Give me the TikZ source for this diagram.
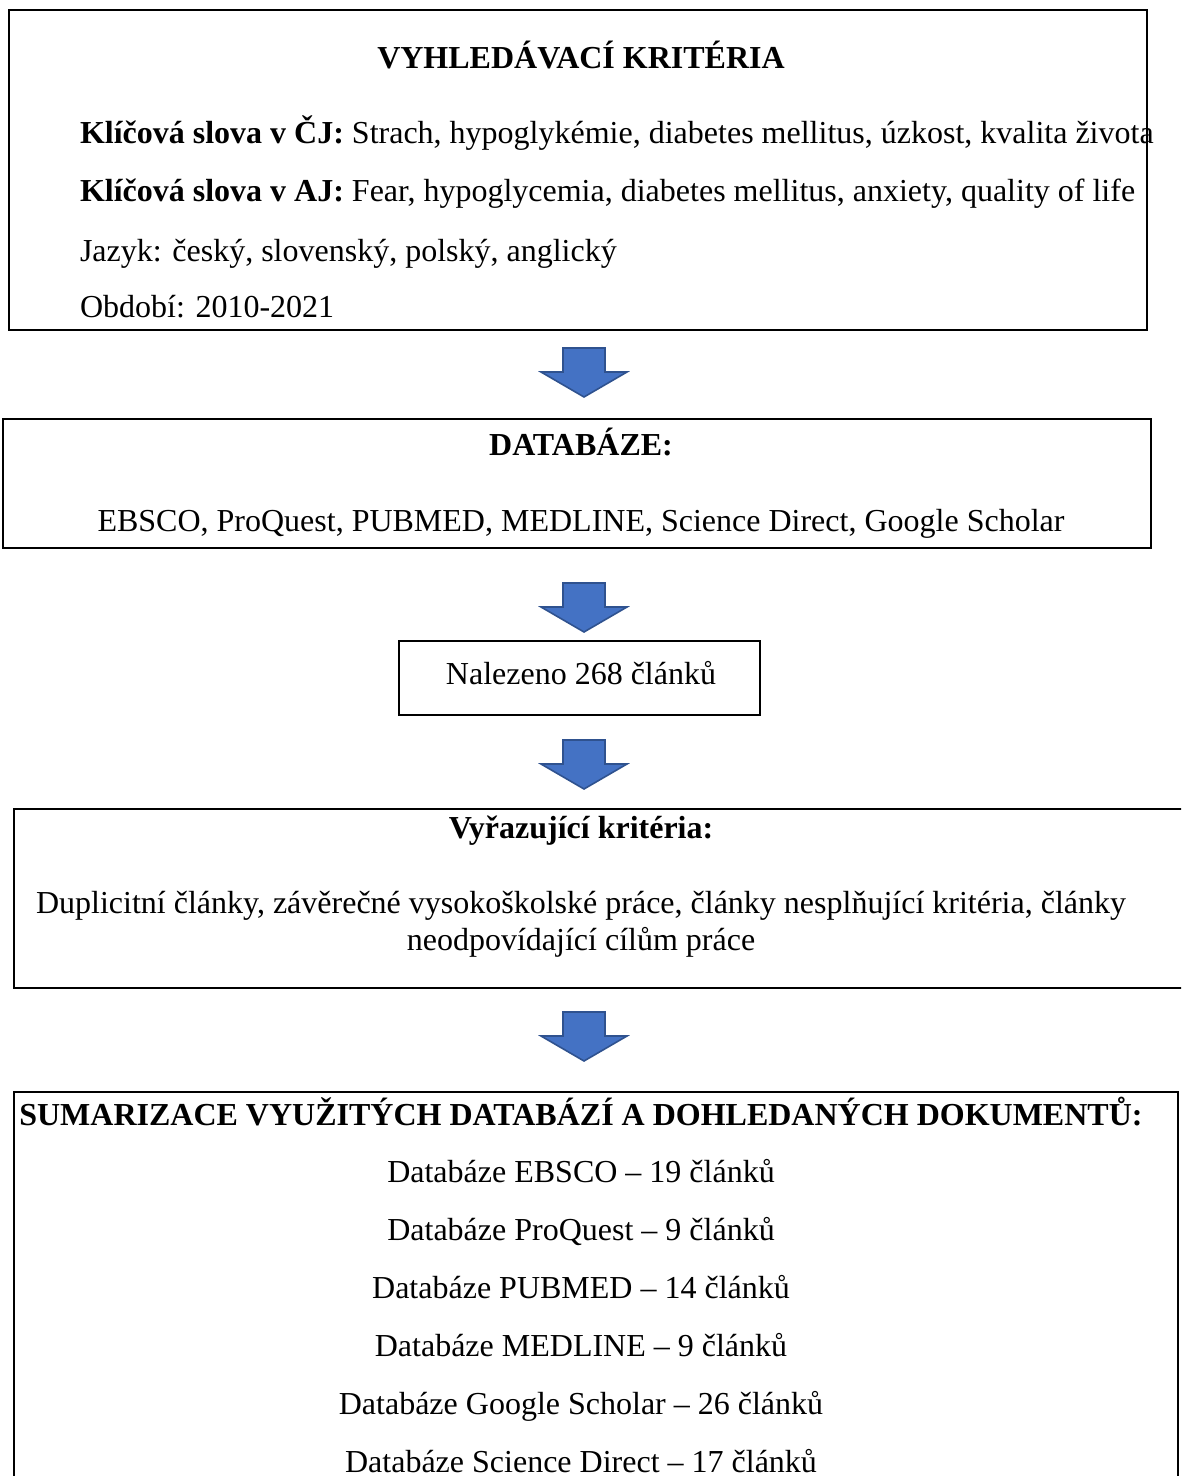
\documentclass[tikz,border=0pt]{standalone}
\usepackage{fontspec}
\setmainfont{Liberation Serif}
\usetikzlibrary{fit}

\definecolor{arrowfill}{RGB}{68,114,196}
\definecolor{arrowline}{RGB}{47,82,143}

\tikzset{every picture/.style={line width=0.75pt}}
\tikzset{
  box/.style={draw, line width=1pt, inner sep=0pt},
  txt/.style={anchor=base, inner sep=0pt, font=\fontsize{12}{14}\selectfont},
  txtl/.style={txt, anchor=base west},
  hdr/.style={txt, font=\fontsize{12}{14}\selectfont\bfseries},
  blockarrow/.style={fill=arrowfill, draw=arrowline, line width=0.6pt}
}
% block arrow pointing down, top centre at (#1,#2)
\newcommand{\downblock}[2]{%
  \draw[blockarrow] (#1-21,#2) -- (#1+21,#2) -- (#1+21,#2+24) -- (#1+43,#2+24) -- (#1,#2+49) -- (#1-43,#2+24) -- (#1-21,#2+24) -- cycle;}

\begin{document}
\begin{tikzpicture}[x=0.375pt,y=0.375pt,yscale=-1,xscale=1]
\clip (0,0) rectangle (1181,1476);

%Boxes
\node[box, fit={(9,10) (1147,330)}] (crit) {};
\node[box, fit={(3,419) (1151,548)}] (db) {};
\node[box, fit={(399,641) (760,715)}] (found) {};
\node[box, fit={(14,809) (1196,988)}] (excl) {};
\node[box, fit={(14,1092) (1178,1500)}] (summ) {};

%Block arrows
\downblock{584}{348}
\downblock{584}{583}
\downblock{584}{740}
\downblock{584}{1012}

% Text Node
\node[hdr] (critT) at (581,69) {VYHLEDÁVACÍ KRITÉRIA};
\node[txtl] (kwcz) at (79,144) {\textbf{Klíčová slova v ČJ:} Strach, hypoglykémie, diabetes mellitus, úzkost, kvalita života};
\node[txtl] (kwen) at (79,202) {\textbf{Klíčová slova v AJ:} Fear, hypoglycemia, diabetes mellitus, anxiety, quality of life};
\node[txtl] (lang) at (79,261) {Jazyk: český, slovenský, polský, anglický};
\node[txtl] (period) at (79,318) {Období: 2010-2021};

% Text Node
\node[hdr] (dbT) at (581,455) {DATABÁZE:};
\node[txt] (dbL) at (581,531) {EBSCO, ProQuest, PUBMED, MEDLINE, Science Direct, Google Scholar};

% Text Node
\node[txt] (foundT) at (581,684) {Nalezeno 268 článků};

% Text Node
\node[hdr] (exclT) at (581,838) {Vyřazující kritéria:};
\node[txt] (exclA) at (581,913) {Duplicitní články, závěrečné vysokoškolské práce, články nesplňující kritéria, články};
\node[txt] (exclB) at (581,950) {neodpovídající cílům práce};

% Text Node
\node[hdr] (summT) at (581,1125) {SUMARIZACE VYUŽITÝCH DATABÁZÍ A DOHLEDANÝCH DOKUMENTŮ:};
\node[txt] (s1) at (581,1182) {Databáze EBSCO – 19 článků};
\node[txt] (s2) at (581,1240) {Databáze ProQuest – 9 článků};
\node[txt] (s3) at (581,1298) {Databáze PUBMED – 14 článků};
\node[txt] (s4) at (581,1356) {Databáze MEDLINE – 9 článků};
\node[txt] (s5) at (581,1414) {Databáze Google Scholar – 26 článků};
\node[txt] (s6) at (581,1472) {Databáze Science Direct – 17 článků};

\end{tikzpicture}
\end{document}
